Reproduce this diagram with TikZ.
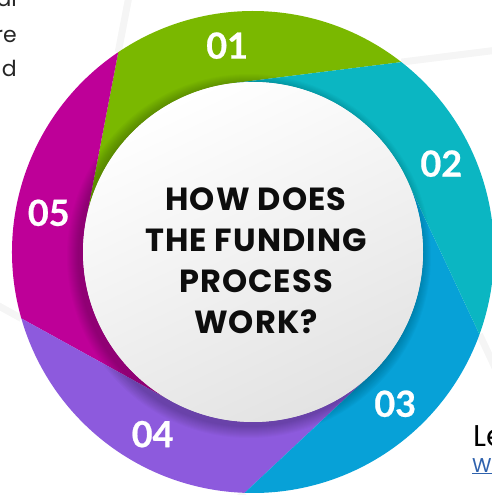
\documentclass[tikz,border=0pt]{standalone}
\usepackage{fontspec}
\setmainfont{Poppins}
\newfontfamily\numfont{Lato}[BoldFeatures={FakeBold=0.6}]
\newfontfamily\titlefont{Poppins}[LetterSpace=3.5]
\usetikzlibrary{calc}
\definecolor{segGreen}{HTML}{7AB800}
\definecolor{segTeal}{HTML}{0BB6C2}
\definecolor{segBlue}{HTML}{07A1D7}
\definecolor{segPurple}{HTML}{8D5ADD}
\definecolor{segMagenta}{HTML}{BE0098}
\definecolor{linkBlue}{HTML}{2F62AD}
\def\ro{241pt}
\def\ri{170pt}
\begin{document}
\begin{tikzpicture}[x=1pt,y=1pt,
		num/.style = {font=\numfont\bfseries\fontsize{36}{36}\selectfont, text=white},
		title/.style = {align=center, text=black!95,
			font=\titlefont\bfseries\fontsize{32}{41}\selectfont},
		frag/.style = {anchor=base east, inner sep=0pt, text=black!85,
			font=\fontsize{22}{22}\selectfont},
		stripe/.style = {line width=7pt, black!4}]
	\useasboundingbox (0,0) rectangle (492,495);
	\clip (0,0) rectangle (492,495);
	% text cut off by the picture edge
	\node[frag] (al) at (17,488) {al};
	\node[frag] (re) at (17,452) {re};
	\node[frag] (d) at (17,418) {d};
	\node[anchor=base west, inner sep=0pt, font=\fontsize{30}{30}\selectfont] (le) at (473,48) {Le};
	\node[anchor=base west, inner sep=0pt, text=linkBlue, font=\fontsize{20}{20}\selectfont] (w) at (472,23) {\underline{W}};
	\begin{scope}[shift={(253,243)}]
		% faint paper edges behind the ring
		\foreach \b in {52,124,196,268,340}{
			\pgfmathsetmacro\t{\b+45.14}
			\draw[stripe] (\b:\ro) -- ($(\b:\ro)!-0.8!(\t:\ri)$);
		}
		% ring segments
		\foreach \b/\col in {52/segGreen,124/segMagenta,196/segPurple,268/segBlue,340/segTeal}{
			\pgfmathsetmacro\e{\b+72}
			\pgfmathsetmacro\t{\b+45.14}
			\pgfmathsetmacro\tt{\b+117.14}
			\fill[\col] (\b:\ro) arc[start angle=\b, end angle=\e, radius=\ro]
				-- (\tt:\ri) arc[start angle=\tt, end angle=\t, radius=\ri] -- cycle;
		}
		% soft shadow of the centre disc
		\foreach \i in {1,...,12}
			\fill[black, opacity=0.018] (-4,-4) circle[radius=\ri+\i pt];
		\shade[top color=white, middle color=white, bottom color=black!11, shading angle=25]
			(0,0) circle[radius=\ri];
		\foreach \b/\lab in {52/01,124/05,196/04,268/03,340/02}
			\node[num] (n\lab) at (\b+45.14:208pt) {\lab};
		\node[title] (title) at (3,-9) {HOW DOES\\THE FUNDING\\PROCESS\\WORK?};
	\end{scope}
\end{tikzpicture}
\end{document}
